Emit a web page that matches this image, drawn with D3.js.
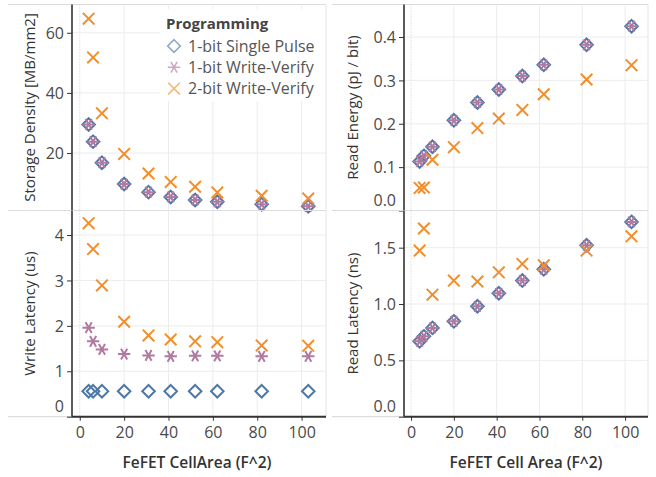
<!DOCTYPE html>
<html><head><meta charset="utf-8">
<script src="https://cdn.jsdelivr.net/npm/d3@7"></script>
<style>
html,body{margin:0;padding:0;background:#fff;}
svg{display:block;font-family:"Open Sans",sans-serif;}
</style></head>
<body><svg id="c" width="656" height="477"></svg>
<script>
// ---- data ----
const cellArea = [4, 6, 10, 20, 31, 41, 52, 62, 82, 103];
const seriesNames = ["1-bit Single Pulse", "1-bit Write-Verify", "2-bit Write-Verify"];
const densitySP = [29.5, 23.8, 16.8, 9.7, 7.0, 5.4, 4.4, 3.8, 3.0, 2.3];
const densityWV1 = [29.5, 23.8, 16.8, 9.7, 7.0, 5.4, 4.4, 3.8, 3.0, 2.3];
const densityWV2 = [64.7, 51.8, 33.2, 19.7, 13.2, 10.4, 8.8, 6.9, 5.8, 4.9];
const readEnergySP = [0.113, 0.126, 0.147, 0.208, 0.249, 0.279, 0.310, 0.336, 0.382, 0.425];
const readEnergyWV1 = [0.113, 0.126, 0.147, 0.208, 0.249, 0.279, 0.310, 0.336, 0.382, 0.425];
const readEnergyWV2 = [0.052, 0.053, 0.117, 0.146, 0.190, 0.212, 0.232, 0.268, 0.302, 0.335];
const writeLatSP = [0.56, 0.56, 0.56, 0.56, 0.56, 0.56, 0.56, 0.56, 0.56, 0.56];
const writeLatWV1 = [1.96, 1.66, 1.48, 1.38, 1.35, 1.33, 1.34, 1.34, 1.33, 1.33];
const writeLatWV2 = [4.26, 3.69, 2.89, 2.09, 1.79, 1.70, 1.66, 1.64, 1.57, 1.56];
const readLatSP = [0.669, 0.713, 0.788, 0.846, 0.980, 1.095, 1.208, 1.308, 1.521, 1.729];
const readLatWV1 = [0.669, 0.713, 0.788, 0.846, 0.980, 1.095, 1.208, 1.308, 1.521, 1.729];
const readLatWV2 = [1.474, 1.670, 1.083, 1.208, 1.200, 1.281, 1.356, 1.344, 1.474, 1.601];
const xTicks = [0, 20, 40, 60, 80, 100];
const densityTicks = [20, 40, 60];
const readEnergyTicks = [0.0, 0.1, 0.2, 0.3, 0.4];
const writeLatTicks = [0, 1, 2, 3, 4];
const readLatTicks = [0.0, 0.5, 1.0, 1.5];

const colors = {"1-bit Single Pulse": "#4e79a7", "1-bit Write-Verify": "#b07aa1", "2-bit Write-Verify": "#f28e2b"};

const svg = d3.select("#c");
const grid = "#ececec";
const axisCol = "#333";
const tickCol = "#4a4a4a";

const panels = [
  {x0: 72, x1: 326, y0: 4.5, y1: 210.5, dom: [-3.5, 111], ydom: [0.9, 69.4], yt: densityTicks, fmt: d3.format("d"),
   title: "Storage Density [MB/mm2]", tx: 30, sp: densitySP, w1: densityWV1, w2: densityWV2, bottom: false, left: true},
  {x0: 404, x1: 648, y0: 4.5, y1: 210.5, dom: [-3.3, 110.7], ydom: [0, 0.475], yt: readEnergyTicks, fmt: d3.format(".1f"),
   title: "Read Energy (pJ / bit)", tx: 353, sp: readEnergySP, w1: readEnergyWV1, w2: readEnergyWV2, bottom: false, left: false},
  {x0: 72, x1: 326, y0: 210.5, y1: 416.7, dom: [-3.5, 111], ydom: [0, 4.54], yt: writeLatTicks, fmt: d3.format("d"),
   title: "Write Latency (us)", tx: 30, sp: writeLatSP, w1: writeLatWV1, w2: writeLatWV2, bottom: true, left: true, xt: "FeFET CellArea (F^2)"},
  {x0: 404, x1: 648, y0: 210.5, y1: 416.7, dom: [-3.3, 110.7], ydom: [0, 1.83], yt: readLatTicks, fmt: d3.format(".1f"),
   title: "Read Latency (ns)", tx: 353, sp: readLatSP, w1: readLatWV1, w2: readLatWV2, bottom: true, left: false, xt: "FeFET Cell Area (F^2)"}
];

const diamond = "M0,-6.3L6.3,0L0,6.3L-6.3,0Z";
const xmark = "M-5.8,-5.8L5.8,5.8M-5.8,5.8L5.8,-5.8";
const star = (function(){const r=6.2;let p="";for(let a of [0,60,120]){const t=a*Math.PI/180;p+=`M${(-r*Math.cos(t)).toFixed(2)},${(-r*Math.sin(t)).toFixed(2)}L${(r*Math.cos(t)).toFixed(2)},${(r*Math.sin(t)).toFixed(2)}`;}return p;})();

panels.forEach(p => {
  const x = d3.scaleLinear().domain(p.dom).range([p.x0, p.x1]);
  const y = d3.scaleLinear().domain(p.ydom).range([p.y1, p.y0]);
  const g = svg.append("g");
  const lx = p.left ? 8 : 332;
  g.append("line").attr("x1", lx).attr("x2", p.x1).attr("y1", p.y0).attr("y2", p.y0).attr("stroke", "#dcdcdc").attr("stroke-width", 1.2);
  g.append("line").attr("x1", lx).attr("x2", p.x1).attr("y1", p.y1).attr("y2", p.y1).attr("stroke", "#dcdcdc").attr("stroke-width", 1.2);
  g.append("line").attr("x1", p.x1).attr("x2", p.x1).attr("y1", p.y0).attr("y2", p.y1).attr("stroke", "#e4e4e4");
  g.selectAll(".vg").data(xTicks.filter(d => d > 0)).enter().append("line")
    .attr("x1", d => x(d)).attr("x2", d => x(d)).attr("y1", p.y0).attr("y2", p.y1).attr("stroke", grid);
  g.append("line").attr("x1", x(0)).attr("x2", x(0)).attr("y1", p.y0).attr("y2", p.y1)
    .attr("stroke", "#c8c8c8").attr("stroke-dasharray", "1,2");
  g.selectAll(".hg").data(p.yt.filter(d => y(d) > p.y0 + 2 && y(d) < p.y1 - 2)).enter().append("line")
    .attr("x1", p.x0).attr("x2", p.x1).attr("y1", d => y(d)).attr("y2", d => y(d)).attr("stroke", grid);
  const yAxis = d3.axisLeft(y).tickValues(p.yt).tickFormat(p.fmt).tickSize(5).tickPadding(3);
  const ya = g.append("g").attr("transform", `translate(${p.x0},0)`).call(yAxis);
  ya.select(".domain").remove();
  ya.selectAll(".tick line").attr("stroke", axisCol);
  ya.selectAll(".tick text").attr("fill", tickCol).attr("font-size", 16).attr("font-family", "Open Sans")
    .attr("dy", d => (p.y1 - y(d) < 8) ? "-0.3em" : "0.35em");
  g.append("line").attr("x1", p.x0).attr("x2", p.x0).attr("y1", p.y0).attr("y2", p.y1).attr("stroke", axisCol).attr("stroke-width", 1.6);
  g.append("text").attr("transform", `translate(${p.tx},${(p.y0 + p.y1) / 2}) rotate(-90)`)
    .attr("text-anchor", "middle").attr("dy", "0.35em").attr("fill", "#333").attr("font-size", 15).text(p.title);
  if (p.bottom) {
    const xAxis = d3.axisBottom(x).tickValues(xTicks).tickFormat(d3.format("d")).tickSize(4).tickPadding(6);
    const xa = g.append("g").attr("transform", `translate(0,${p.y1})`).call(xAxis);
    xa.select(".domain").remove();
    xa.selectAll(".tick line").attr("stroke", axisCol);
    xa.selectAll(".tick text").attr("fill", tickCol).attr("font-size", 16).attr("font-family", "Open Sans");
    g.append("line").attr("x1", p.x0).attr("x2", p.x1).attr("y1", p.y1).attr("y2", p.y1).attr("stroke", axisCol).attr("stroke-width", 2);
    g.append("text").attr("x", (p.x0 + p.x1) / 2 + (p.left ? -2 : 0)).attr("y", 468).attr("text-anchor", "middle")
      .attr("fill", "#333").attr("font-size", 15.5).attr("font-weight", 600).text(p.xt);
  }
  const pts = (arr) => cellArea.map((c, i) => ({c, v: arr[i]}));
  const m = g.append("g");
  m.selectAll(".sp").data(pts(p.sp)).enter().append("path").attr("d", diamond)
    .attr("transform", d => `translate(${x(d.c)},${y(d.v)})`).attr("fill", "none")
    .attr("stroke", colors[seriesNames[0]]).attr("stroke-width", 2);
  m.selectAll(".w1").data(pts(p.w1)).enter().append("path").attr("d", star)
    .attr("transform", d => `translate(${x(d.c)},${y(d.v)})`).attr("fill", "none")
    .attr("stroke", colors[seriesNames[1]]).attr("stroke-width", 2);
  m.selectAll(".w2").data(pts(p.w2)).enter().append("path").attr("d", xmark)
    .attr("transform", d => `translate(${x(d.c)},${y(d.v)})`).attr("fill", "none")
    .attr("stroke", colors[seriesNames[2]]).attr("stroke-width", 2);
});

// legend
const lg = svg.append("g");
lg.append("rect").attr("x", 160).attr("y", 9).attr("width", 165).attr("height", 92).attr("fill", "#fff").attr("opacity", 0.9);
lg.append("text").attr("x", 166).attr("y", 29).attr("fill", "#444").attr("font-size", 15).attr("font-weight", 700).text("Programming");
const shapes = [diamond, star, xmark];
seriesNames.forEach((s, i) => {
  const cy = 46 + i * 21.3;
  lg.append("path").attr("d", shapes[i]).attr("transform", `translate(174,${cy})`).attr("fill", "none")
    .attr("stroke", colors[s]).attr("stroke-width", 1.6).attr("opacity", 0.65);
  lg.append("text").attr("x", 188).attr("y", cy).attr("dy", "0.35em").attr("fill", "#555").attr("font-size", 16).text(s);
});
</script></body></html>
